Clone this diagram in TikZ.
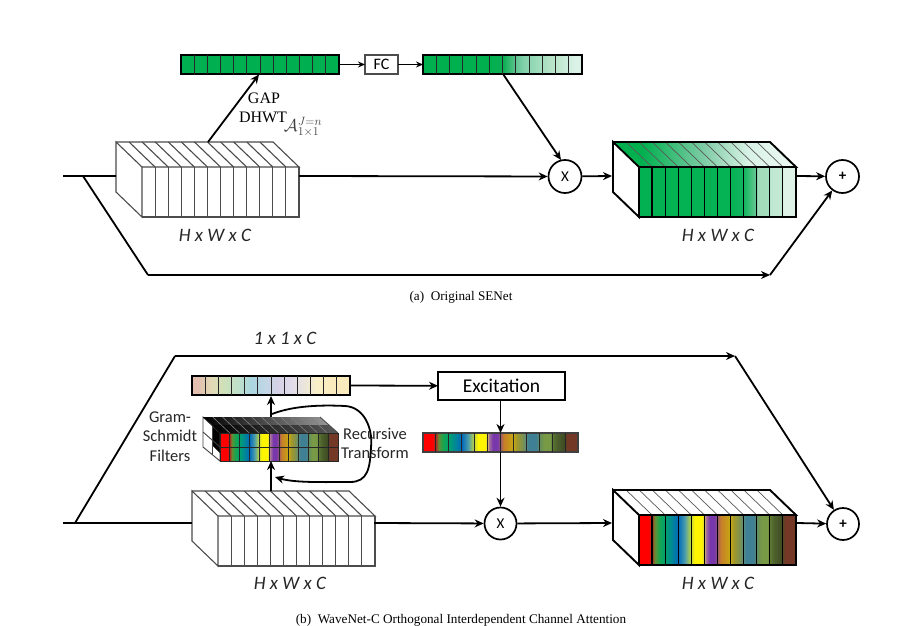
\documentclass[tikz,border=0pt]{standalone}
\usepackage{fontspec}
\setmainfont{Carlito}
\newfontfamily\capfont{Liberation Serif}
\usetikzlibrary{calc,arrows.meta}

% fills run over the whole strip, 25bp to 75bp is what shows
\pgfdeclarehorizontalshading{rainbowfill}{100bp}{
  rgb(0bp)=(1,0,0); rgb(28bp)=(1,0,0); rgb(29.2bp)=(.65,.2,.15);
  rgb(30bp)=(.4,.55,.2); rgb(31.5bp)=(.08,.65,.31); rgb(33.3bp)=(0,.63,.43);
  rgb(35.4bp)=(0,.53,.59); rgb(37.5bp)=(0,.41,.73);
  rgb(39.6bp)=(.3,.62,.67); rgb(41.7bp)=(.8,.85,.2);
  rgb(42.7bp)=(1,.96,0); rgb(45bp)=(1,.96,0); rgb(45.8bp)=(.85,.8,.35);
  rgb(46.2bp)=(.67,.47,.59); rgb(47.5bp)=(.47,.22,.67); rgb(49bp)=(.47,.22,.67); rgb(50bp)=(.6,.35,.45);
  rgb(51bp)=(.78,.49,.16); rgb(53bp)=(.78,.6,.1); rgb(54.2bp)=(.78,.67,.08);
  rgb(55bp)=(.65,.6,.15); rgb(57bp)=(.5,.57,.3); rgb(58.3bp)=(.35,.55,.51);
  rgb(59bp)=(.25,.5,.58); rgb(61.5bp)=(.25,.5,.58); rgb(62.5bp)=(.38,.55,.38);
  rgb(64bp)=(.47,.6,.27); rgb(66bp)=(.47,.6,.27); rgb(66.7bp)=(.36,.47,.2);
  rgb(68bp)=(.3,.38,.17); rgb(70.4bp)=(.25,.3,.14);
  rgb(71.5bp)=(.45,.22,.15); rgb(100bp)=(.49,.22,.16)}
\pgfdeclarehorizontalshading{pastelfill}{100bp}{
  rgb(0bp)=(.89,.75,.69); rgb(27bp)=(.89,.75,.69); rgb(31.3bp)=(.88,.86,.71); rgb(35.4bp)=(.8,.88,.73);
  rgb(39.6bp)=(.75,.88,.8); rgb(43.8bp)=(.67,.84,.88); rgb(47.9bp)=(.75,.84,.9); rgb(52.1bp)=(.84,.82,.9);
  rgb(56.3bp)=(.88,.86,.92); rgb(60.4bp)=(.92,.9,.86); rgb(64.6bp)=(.98,.94,.78); rgb(68.8bp)=(.98,.92,.75);
  rgb(100bp)=(.98,.92,.75)}
\pgfdeclarehorizontalshading{barfade}{100bp}{
  rgb(0bp)=(0,.69,.31); rgb(46bp)=(0,.69,.31); rgb(50.2bp)=(.05,.68,.33); rgb(54bp)=(.37,.77,.56);
  rgb(56.6bp)=(.51,.82,.67); rgb(60.7bp)=(.61,.86,.73); rgb(64.8bp)=(.71,.89,.78); rgb(68.9bp)=(.78,.92,.84);
  rgb(73bp)=(.86,.95,.91); rgb(100bp)=(.86,.95,.91)}
\pgfdeclarehorizontalshading{frontfade}{100bp}{
  rgb(0bp)=(0,.69,.31); rgb(54bp)=(.02,.7,.33); rgb(58.3bp)=(.07,.71,.37); rgb(62.4bp)=(.42,.79,.58);
  rgb(62.8bp)=(.63,.86,.73); rgb(66.5bp)=(.65,.87,.74); rgb(66.9bp)=(.75,.91,.82); rgb(70.6bp)=(.77,.91,.83);
  rgb(71bp)=(.87,.95,.91); rgb(100bp)=(.87,.95,.91)}
\pgfdeclarehorizontalshading{topfade}{100bp}{
  rgb(0bp)=(0,.69,.31); rgb(33bp)=(0,.69,.31); rgb(50bp)=(.5,.8,.65); rgb(62bp)=(.85,.95,.9);
  rgb(75bp)=(.94,.98,.96); rgb(100bp)=(.94,.98,.96)}
\definecolor{segreen}{RGB}{0,176,80}

% one block of 12 channels, top face and front face
\newcommand{\channelblock}[6]{
  \begin{scope}[shift={(#1)}]
    \path[#5] (0,0) -- (157,0) -- (183,25) -- (26,25) -- cycle;
    \path[#6] (26,25) rectangle (183,75);
    \foreach \i in {1,...,11} {
      \draw[#4] (\i*13.08,0) -- (26+\i*13.08,25);
      \draw[#3] (26+\i*13.08,25) -- (26+\i*13.08,75);
    }
    \draw[#2] (0,0) -- (26,25) -- (26,75) -- (0,50) -- cycle;
    \draw[#2] (0,0) -- (157,0) -- (183,25) -- (26,25);
    \draw[#2] (26,75) -- (183,75) -- (183,25);
  \end{scope}
}
\newcommand{\cellmarks}[2]{
  \foreach \i in {1,...,11}
    \draw[cellline] ($(#1.north west)+(\i*#2,0)$) -- ($(#1.south west)+(\i*#2,0)$);
}

\begin{document}
\begin{tikzpicture} [
    x=1pt, y=-1pt,
    flow/.style={line width=1.8pt, -{Stealth[length=9pt,width=8pt]}},
    thinflow/.style={line width=1.1pt, -{Stealth[length=7pt,width=6pt]}},
    plainline/.style={line width=1.8pt},
    cellline/.style={black!85, line width=0.9pt},
    stripbox/.style={draw=black, line width=1.7pt, inner sep=0pt, outer sep=0pt, minimum width=#1, minimum height=19pt},
    opcircle/.style={circle, draw=black, line width=1.7pt, fill=white, minimum size=33pt, inner sep=0pt, font=\fontsize{15}{15}\selectfont},
    grayedge/.style={black!70, line width=1.1pt},
    blackedge/.style={black, line width=1.9pt},
    blackslab/.style={black, line width=1.2pt},
    hatchline/.style={black!65, line width=0.7pt},
    sizelabel/.style={font=\fontsize{19}{22}\selectfont\itshape, inner sep=0pt, text=black!85},
    sidelabel/.style={font=\fontsize{16.5}{19.5}\selectfont, align=center, inner sep=0pt, text=black!85},
    serifcap/.style={font=\capfont\fontsize{13.2}{15}\selectfont, inner sep=0pt},
    serifop/.style={font=\capfont\fontsize{16}{18}\selectfont, inner sep=0pt}
  ]
\useasboundingbox (0,0) rectangle (910,626);

% (a) upper network
\channelblock{116,142}{grayedge}{grayedge}{grayedge}{fill=white}{fill=white}
\channelblock{613,142}{blackedge}{blackslab}{hatchline}{shading=topfade}{shading=frontfade}

\node[stripbox=158pt, fill=segreen] (gapbar) at (260,64.5) {};
\cellmarks{gapbar}{13.17}
\node[stripbox=33pt, draw=black!70, line width=1.1pt, font=\fontsize{16}{16}\selectfont] (fcbox) at (381.5,64.5) {FC};
\node[stripbox=159pt, shading=barfade] (scalebar) at (502.5,64.5) {};
\cellmarks{scalebar}{13.25}

\node[opcircle] (mula) at (565,176.5) {X};
\node[opcircle] (suma) at (842.5,176.5) {\textbf{+}};

\coordinate (ina) at (63,176);
\coordinate (splita) at (83,176);
\coordinate (cubeain) at (116,176);
\coordinate (cubeaout) at (299,176);
\coordinate (cubeatop) at (208,142);
\coordinate (gapend) at (259,74.5);
\coordinate (scaleout) at (503,74);
\coordinate (multo) at (561,160);
\coordinate (cubebin) at (612,176);
\coordinate (cubebout) at (797,176);
\coordinate (skipa) at (148,275);
\coordinate (skipb) at (770,275);

\draw[plainline] (ina) -- (cubeain);
\draw[plainline] (splita) -- (skipa);
\draw[flow] (skipa) -- (skipb);
\draw[flow] (skipb) -- (suma);
\draw[flow] (cubeaout) -- (mula);
\draw[flow] (mula) -- (cubebin);
\draw[flow] (cubebout) -- (suma);
\draw[flow] (cubeatop) -- (gapend);
\draw[flow] (scaleout) -- (multo);
\draw[thinflow] (gapbar) -- (fcbox);
\draw[thinflow] (fcbox) -- (scalebar);

\node[serifop] (gaplabel) at (264,98) {GAP};
\node[serifop] (dhwtlabel) at (263,117) {DHWT};
\node[font=\fontsize{18}{20}\selectfont, inner sep=0pt, text=black!75] (waveletlabel) at (303,127) {$\mathcal{A}_{1\times 1}^{J=n}$};
\node[sizelabel] (sizea) at (215,235) {H x W x C};
\node[sizelabel] (sizeb) at (718,235) {H x W x C};
\node[serifcap] (capa) at (461,297) {(a)\enspace Original SENet};

% (b) lower network
\channelblock{192,491}{grayedge}{grayedge}{grayedge}{fill=white}{fill=white}
\channelblock{613,490}{blackedge}{blackslab}{hatchline}{fill=white}{shading=rainbowfill}

\node[stripbox=158pt, shading=pastelfill] (pastelbar) at (271,385.5) {};
\cellmarks{pastelbar}{13.17}
\node[stripbox=127pt, minimum height=28pt, font=\fontsize{19.5}{19.5}\selectfont] (excite) at (501.5,386) {Excitation};
\node[stripbox=155pt, draw=black!75, line width=1.1pt, shading=rainbowfill] (wavebar) at (500.5,442.5) {};
\cellmarks{wavebar}{12.92}

% filter stack
\fill[white] (203,417) -- (220,433) -- (220,461) -- (203,447) -- cycle;
\fill[black] (212,425) -- (220,433) -- (220,453) -- (212,445) -- cycle;
\draw[black!75, line width=0.9pt] (203,417) -- (220,433) -- (220,461) -- (203,447) -- cycle;
\draw[black!75, line width=0.9pt] (203,432) -- (220,447);
\draw[black!75, line width=0.9pt] (212,425) -- (212,454);
\path[left color=black, middle color=black!92, right color=black!40] (203,417) -- (320,417) -- (329,425) -- (212,425) -- cycle;
\path[left color=black, middle color=black!95, right color=black!65] (212,425) -- (329,425) -- (338,433) -- (220,433) -- cycle;
\foreach \i in {1,...,11} {
  \draw[black!50, line width=0.6pt] (203+\i*9.75,417) -- (220+\i*9.75,433);
}
\draw[black!70, line width=0.9pt] (320,417) -- (338,433);
\node[stripbox=118pt, minimum height=14pt, draw=black!85, line width=1pt, shading=rainbowfill] (rowtop) at (279,440) {};
\cellmarks{rowtop}{9.83}
\node[stripbox=118pt, minimum height=14pt, draw=black!85, line width=1pt, shading=rainbowfill] (rowbot) at (279,454) {};
\cellmarks{rowbot}{9.83}

\node[opcircle, minimum size=32pt] (mulb) at (500.5,523.5) {X};
\node[opcircle, minimum size=32pt] (sumb) at (843,524) {\textbf{+}};

\coordinate (inb) at (63,523);
\coordinate (splitb) at (75,523);
\coordinate (cubecin) at (192,523);
\coordinate (cubecout) at (374,523);
\coordinate (cubectop) at (271,491);
\coordinate (stackbot) at (271,461);
\coordinate (stacktop) at (271,417);
\coordinate (pastelend) at (271,396);
\coordinate (pastelout) at (350.5,385.5);
\coordinate (cubedin) at (612,523);
\coordinate (cubedout) at (797,523);
\coordinate (skipc) at (175,356);
\coordinate (skipd) at (735,356);
\coordinate (recurstart) at (272,414);
\coordinate (recurend) at (275,477);

\draw[plainline] (inb) -- (cubecin);
\draw[plainline] (splitb) -- (skipc);
\draw[flow] (skipc) -- (skipd);
\draw[flow] (skipd) -- (sumb);
\draw[flow] (cubecout) -- (mulb);
\draw[flow] (mulb) -- (cubedin);
\draw[flow] (cubedout) -- (sumb);
\draw[flow] (cubectop) -- (stackbot);
\draw[flow] (stacktop) -- (pastelend);
\draw[flow] (pastelout) -- (excite);
\draw[flow] (excite.south -| wavebar) -- (wavebar.north);
\draw[flow] (wavebar.south) -- (mulb);
\draw[flow] (recurstart) .. controls (295,405) and (325,405) .. (345,406)
  .. controls (365,407) and (373,430) .. (371,447)
  .. controls (370,468) and (368,482) .. (350,482)
  .. controls (325,482) and (295,483) .. (recurend);

\node[sizelabel] (topsize) at (285,338) {1 x 1 x C};
\node[sidelabel] (gramlabel) at (170,436.5) {Gram-\\Schmidt\\Filters};
\node[sidelabel] (recurlabel) at (375,443.5) {Recursive\\Transform};
\node[sizelabel] (sizec) at (290,583) {H x W x C};
\node[sizelabel] (sized) at (718,583) {H x W x C};
\node[serifcap] (capb) at (461,620) {(b)\enspace WaveNet-C Orthogonal Interdependent Channel Attention};
\end{tikzpicture}
\end{document}
